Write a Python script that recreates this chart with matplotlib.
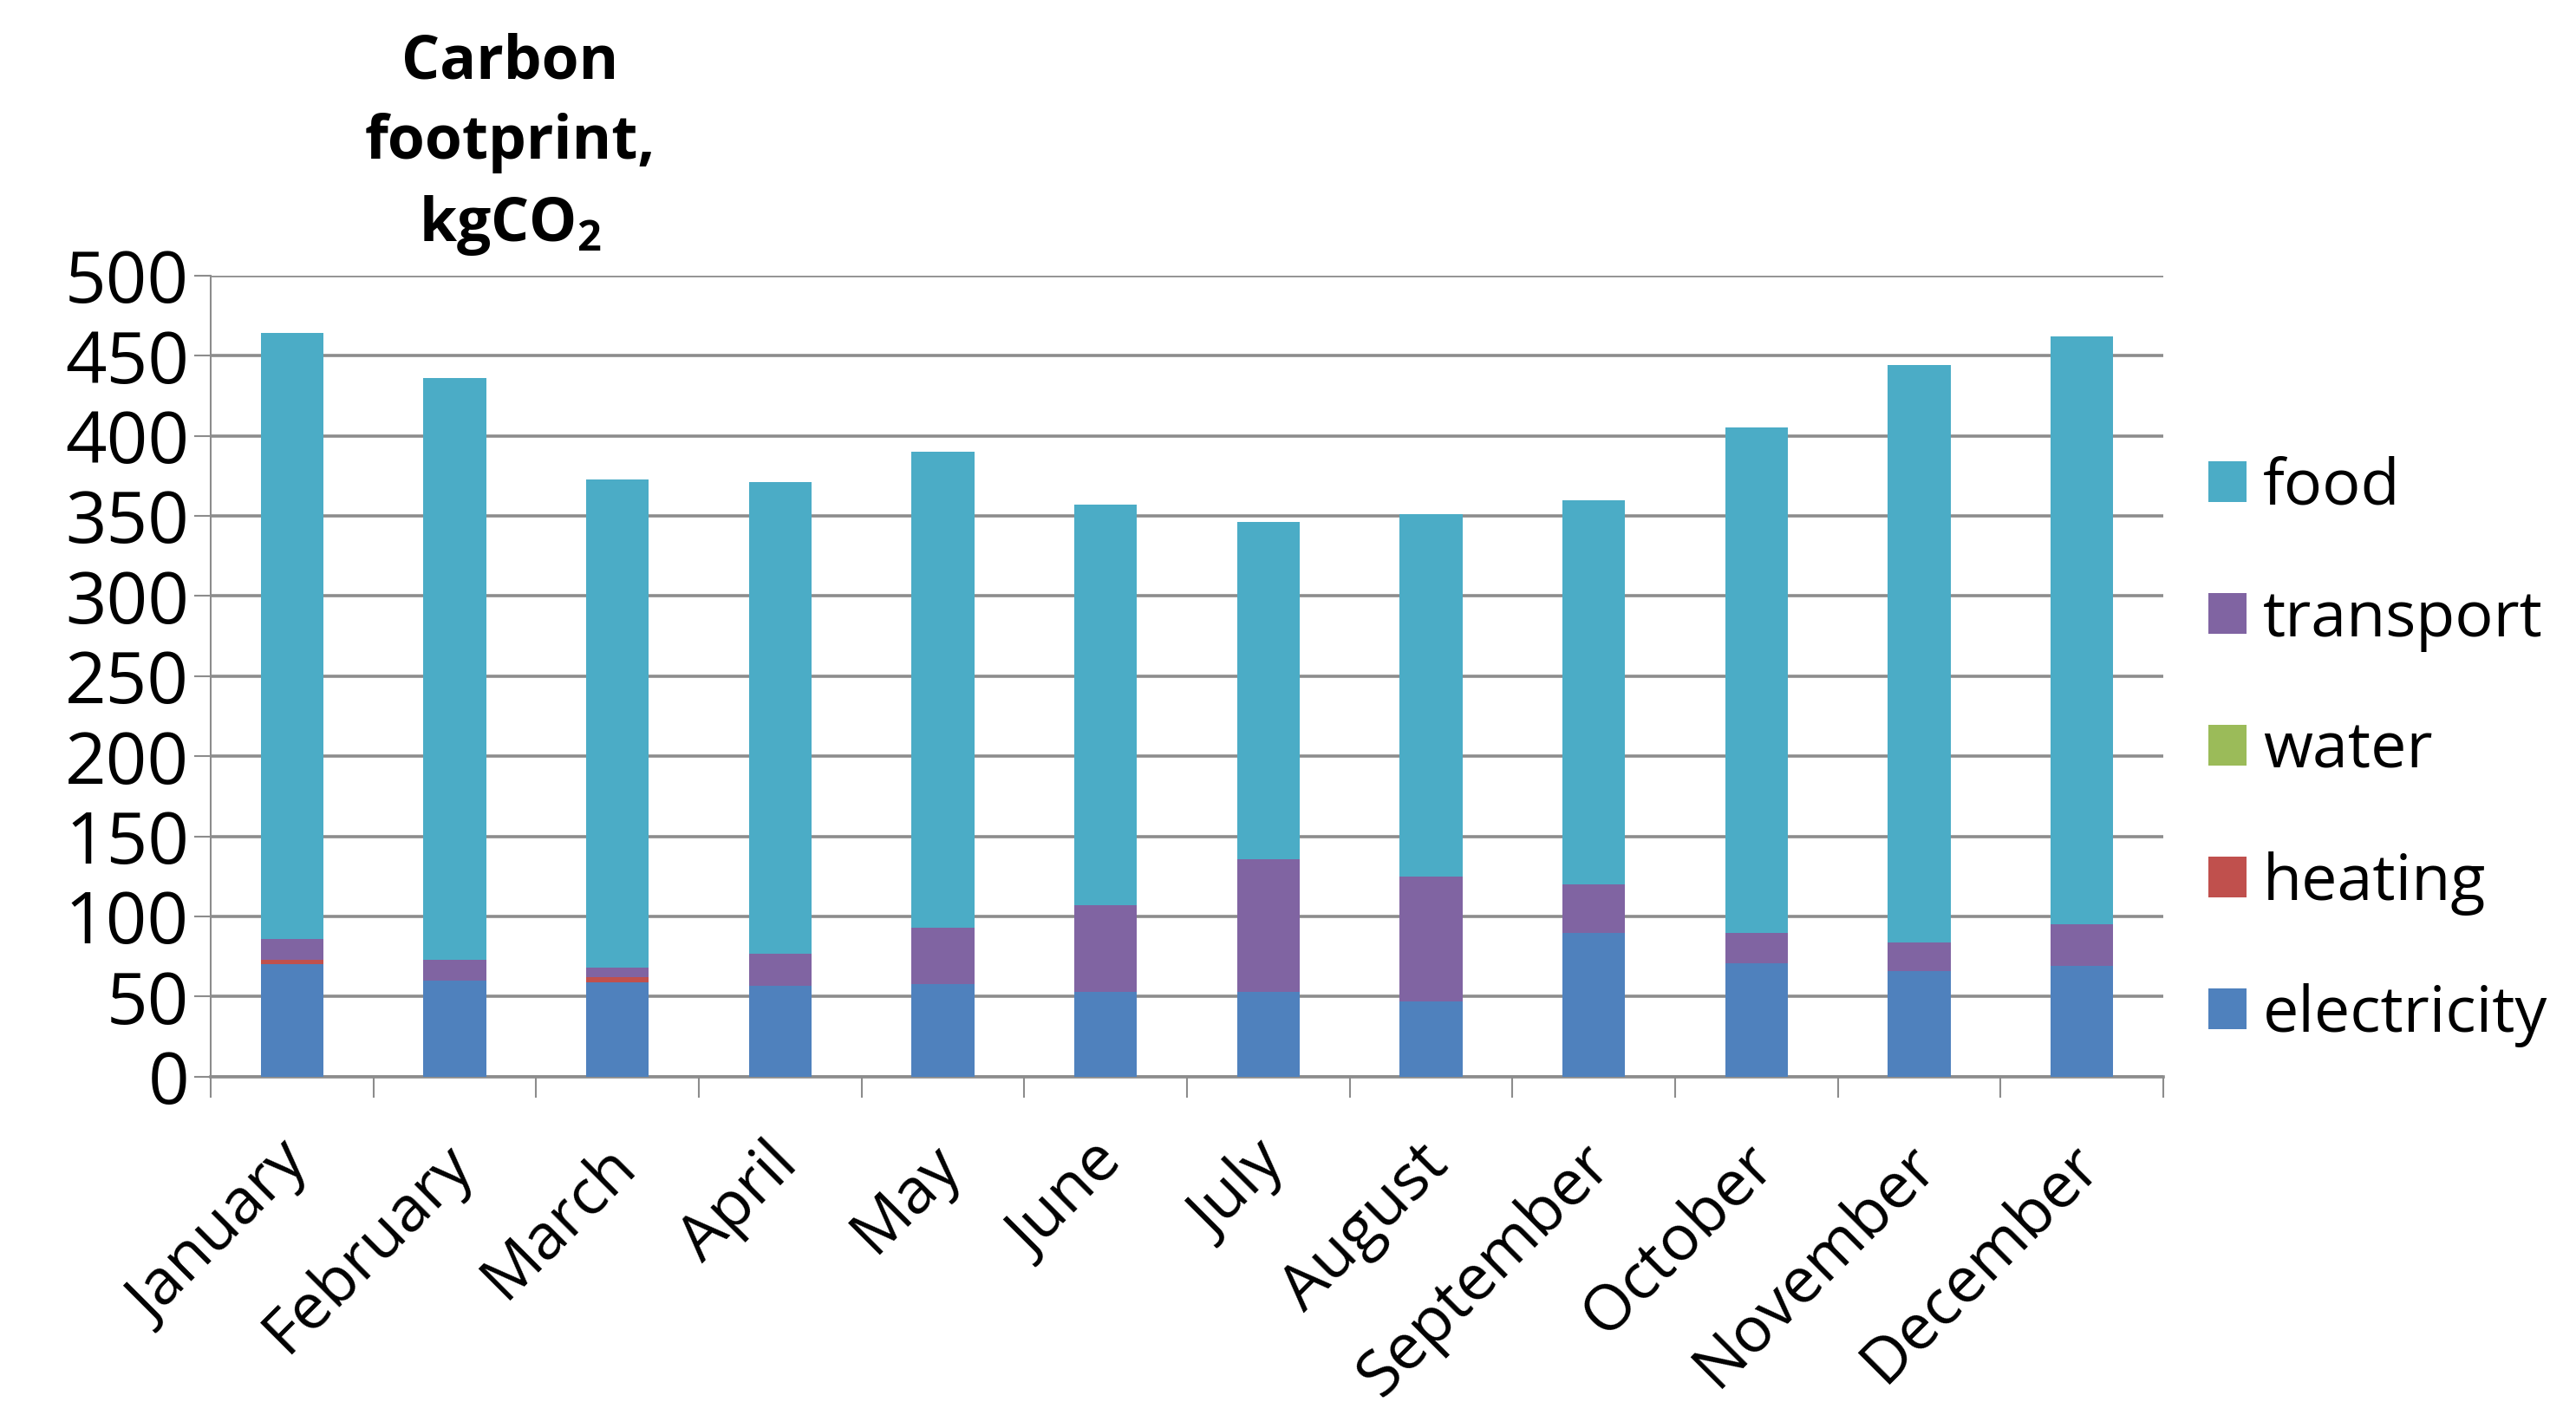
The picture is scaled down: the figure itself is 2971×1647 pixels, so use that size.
import matplotlib.pyplot as plt
import matplotlib.transforms as mtransforms
import numpy as np

months = ['January', 'February', 'March', 'April', 'May', 'June', 'July',
          'August', 'September', 'October', 'November', 'December']
electricity = [70, 60, 59, 57, 58, 53, 53, 47, 90, 71, 66, 69]
heating = [3, 0, 3, 0, 0, 0, 0, 0, 0, 0, 0, 0]
water = [0, 0, 0, 0, 0, 0, 0, 0, 0, 0, 0, 0]
transport = [13, 13, 6, 20, 35, 54, 83, 78, 30, 19, 18, 26]
food = [378, 363, 305, 294, 297, 250, 210, 226, 240, 315, 360, 367]

series = [('electricity', electricity, '#4F81BD'),
          ('heating', heating, '#C0504D'),
          ('water', water, '#9BBB59'),
          ('transport', transport, '#8064A2'),
          ('food', food, '#4BACC6')]

plt.rcParams['font.family'] = ['Open Sans', 'DejaVu Sans']

fig = plt.figure(figsize=(29.71, 16.47), dpi=100)
ax = fig.add_axes([0.0818, 0.246, 0.758, 0.561])

x = np.arange(len(months))
bottom = np.zeros(len(months))
handles = []
for name, vals, color in series:
    b = ax.bar(x, vals, width=0.385, bottom=bottom, color=color, label=name, zorder=3)
    bottom += np.array(vals)
    handles.append(b)

ax.set_xlim(-0.5, len(months) - 0.5)
ax.set_ylim(0, 500)
ax.set_yticks(range(0, 501, 50))
ax.yaxis.grid(True, color='#8c8c8c', linewidth=2.6, zorder=0)
ax.tick_params(axis='y', length=14, width=1.5, color='#8c8c8c', labelsize=60, pad=4)

ax.set_xticks(x)
ax.set_xticklabels(months, rotation=45, ha='right', va='top', rotation_mode='anchor', fontsize=53)
ax.tick_params(axis='x', which='major', length=0, pad=46)
ax.set_xticks(np.arange(-0.5, len(months)), minor=True)
ax.tick_params(axis='x', which='minor', length=17, width=1.5, color='#8c8c8c')
shift = mtransforms.ScaledTranslation(-0.17, 0, fig.dpi_scale_trans)
for lbl in ax.get_xticklabels():
    lbl.set_transform(lbl.get_transform() + shift)

for s in ['top', 'right']:
    ax.spines[s].set_visible(False)
ax.spines['left'].set_color('#8c8c8c')
ax.spines['left'].set_linewidth(1.5)
ax.spines['bottom'].set_color('#8c8c8c')
ax.spines['bottom'].set_linewidth(2.6)

fig.text(0.198, 0.977, 'Carbon\nfootprint,\nkgCO$_\\mathregular{2}$', ha='center', va='top',
         fontsize=50, fontweight='bold', linespacing=1.42)

leg = ax.legend(handles[::-1], [s[0] for s in series][::-1], loc='center left',
                bbox_to_anchor=(1.023, 0.406), frameon=False,
                borderpad=0, borderaxespad=0,
                handlelength=0.6, handleheight=0.6, handletextpad=0.26,
                labelspacing=1.06, prop={'family': 'Open Sans', 'size': 53})

fig.savefig('out.png', dpi=100)
